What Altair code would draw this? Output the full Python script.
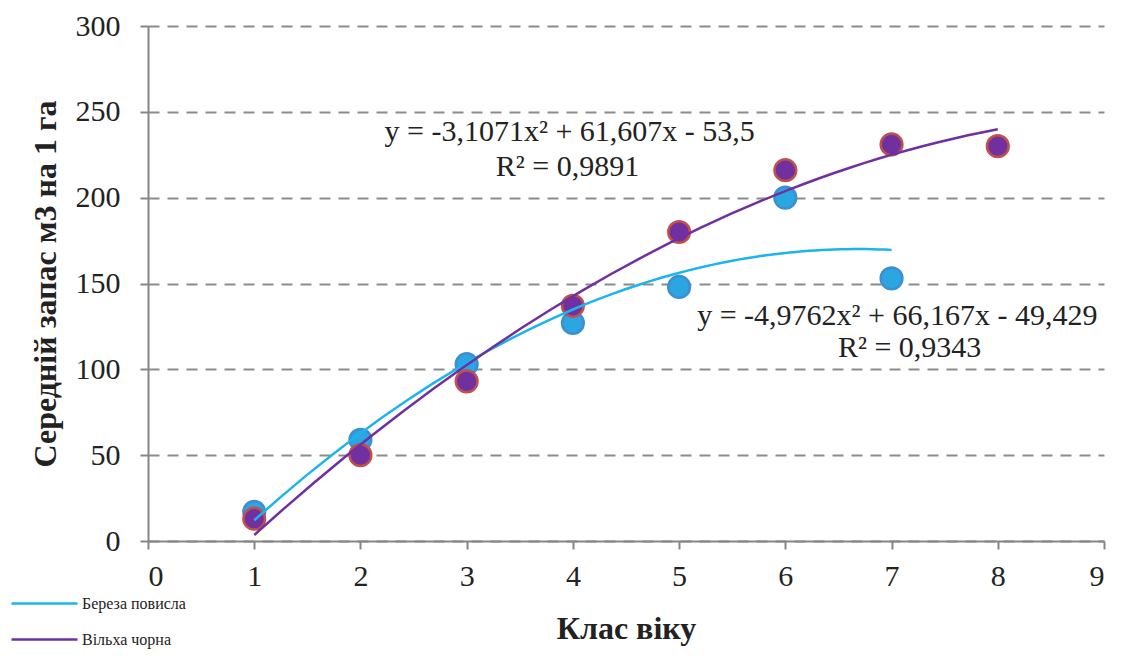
import altair as alt
import pandas as pd

# ---- data ----
species = ["Береза повисла", "Вільха чорна"]
birch_class = [1, 2, 3, 4, 5, 6, 7]
birch_stock = [17, 59, 103, 127, 148, 200, 153]
alder_class = [1, 2, 3, 4, 5, 6, 7, 8]
alder_stock = [13, 50, 93, 137, 180, 216, 231, 230]

line_colors = ["#1cb4ee", "#7030a0"]
point_fill = ["#2ba6e1", "#7030a0"]
point_stroke = ["#3b8fd2", "#c0504d"]

eq_text = [
    "y = -3,1071x² + 61,607x - 53,5",
    "R² = 0,9891",
    "y = -4,9762x² + 66,167x - 49,429",
    "R² = 0,9343",
]
eq_x = [3.97, 3.95, 5.17, 7.17]
eq_y = [238.3, 218.0, 130.8, 112.2]
eq_align = ["center", "center", "left", "center"]

x_ticks = list(range(0, 10))
y_ticks = [0, 50, 100, 150, 200, 250, 300]

FONT = "Liberation Serif"

df = pd.DataFrame(
    {
        "cls": birch_class + alder_class,
        "val": birch_stock + alder_stock,
        "species": [species[0]] * len(birch_class) + [species[1]] * len(alder_class),
    }
)

xs = alt.Scale(domain=[0, 9], nice=False)
ys = alt.Scale(domain=[0, 300], nice=False)

x_axis = alt.Axis(
    values=x_ticks, grid=False, title="Клас віку", format="d",
    labelFontSize=30, labelFont=FONT, labelColor="#222",
    titleFont=FONT, titleFontSize=32, titleFontWeight="bold", titleColor="#222",
    tickSize=8, tickColor="#868686", tickWidth=2,
    domainColor="#868686", domainWidth=2, labelPadding=12, titlePadding=22,
)
y_axis = alt.Axis(
    values=y_ticks, grid=True, gridDash=[11, 8], gridColor="#8c8c8c", gridWidth=2,
    title="Середній запас м3 на 1 га", format="d",
    labelFontSize=30, labelFont=FONT, labelColor="#222",
    titleFont=FONT, titleFontSize=32, titleFontWeight="bold", titleColor="#222",
    tickSize=8, tickColor="#868686", tickWidth=2,
    domainColor="#868686", domainWidth=2, labelPadding=20, titlePadding=13,
)

layers = []
for i, sp in enumerate(species):
    pts = (
        alt.Chart(df)
        .transform_filter(alt.datum.species == sp)
        .mark_circle(size=470, opacity=1, strokeWidth=2.5, fill=point_fill[i], stroke=point_stroke[i])
        .encode(
            x=alt.X("cls:Q", scale=xs, axis=x_axis),
            y=alt.Y("val:Q", scale=ys, axis=y_axis),
        )
    )
    layers.append(pts)

lines = (
    alt.Chart(df)
    .transform_regression("cls", "val", groupby=["species"], method="poly", order=2)
    .mark_line(strokeWidth=2.5)
    .encode(
        x=alt.X("cls:Q", scale=xs),
        y=alt.Y("val:Q", scale=ys),
        color=alt.Color(
            "species:N",
            scale=alt.Scale(domain=species, range=line_colors),
            legend=alt.Legend(
                title=None, orient="none", legendX=-116, legendY=565,
                symbolType="M-3,0H3", symbolSize=484, symbolStrokeWidth=2.5,
                labelFont=FONT, labelFontSize=16, labelColor="#222",
                labelOffset=25, rowPadding=15, padding=0,
            ),
        ),
    )
)
layers.append(lines)

for t, x, y, a in zip(eq_text, eq_x, eq_y, eq_align):
    tdf = pd.DataFrame({"t": [t], "x": [x], "y": [y]})
    layers.append(
        alt.Chart(tdf)
        .mark_text(font=FONT, fontSize=30, color="#222", align=a, baseline="middle")
        .encode(x=alt.X("x:Q", scale=xs), y=alt.Y("y:Q", scale=ys), text="t:N")
    )

chart = (
    alt.layer(*layers)
    .properties(
        width=956, height=515,
        autosize=alt.AutoSizeParams(type="none"),
        padding={"left": 140, "top": 18, "right": 19, "bottom": 112},
        background="white",
    )
    .configure_view(stroke=None)
)

chart.save("out.html", embed_options={"renderer": "svg", "actions": False})
